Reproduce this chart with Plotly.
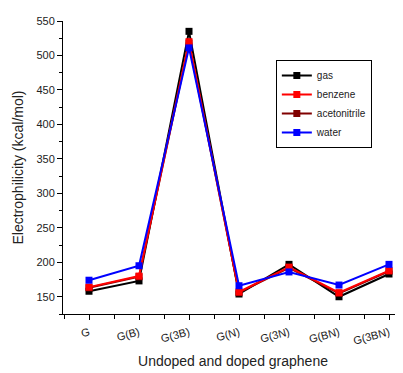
import plotly.graph_objects as go

categories = ["G", "G(B)", "G(3B)", "G(N)", "G(3N)", "G(BN)", "G(3BN)"]
gas = [158, 173, 535, 154, 197, 150, 183]
benzene = [164, 180, 520, 157, 193, 156, 188]
acetonitrile = [163, 179, 518, 156, 192, 155, 187]
water = [174, 195, 511, 166, 186, 167, 197]

series = [
    ("gas", gas, "#000000", 1),
    ("acetonitrile", acetonitrile, "#800000", 3),
    ("benzene", benzene, "#ff0000", 2),
    ("water", water, "#0000ff", 4),
]

x_idx = list(range(len(categories)))

fig = go.Figure()
for name, vals, color, rank in series:
    fig.add_trace(go.Scatter(
        x=x_idx, y=vals, name=name, mode="lines+markers",
        line=dict(color=color, width=2),
        marker=dict(symbol="square", size=7, color=color),
        legendrank=rank,
    ))

# page body has an 8px margin, so the figure is shifted by 8px
fig.update_layout(
    width=395, height=365,
    margin=dict(l=55, r=0, t=13, b=59, autoexpand=False),
    plot_bgcolor="white", paper_bgcolor="white",
    font=dict(family="Liberation Sans, Arial, sans-serif", size=11, color="#222222"),
    showlegend=True,
    legend=dict(
        x=0.626, y=0.867, xanchor="left", yanchor="top",
        bordercolor="#000000", borderwidth=1, bgcolor="white",
        font=dict(size=10, color="#222222"),
        itemwidth=30, tracegroupgap=0,
    ),
    xaxis=dict(
        range=[-0.52, 6.28], automargin=False,
        tickvals=x_idx, ticktext=categories, tickangle=-15,
        showline=True, linecolor="#000000", linewidth=1,
        ticks="outside", ticklen=5, tickcolor="#000000", ticklabelstandoff=2,
        minor=dict(dtick=0.5, tick0=0, ticks="outside", ticklen=4, tickcolor="#000000"),
        showgrid=False, zeroline=False,
        title=dict(text="Undoped and doped graphene", font=dict(size=14), standoff=10),
    ),
    yaxis=dict(
        range=[125, 550], automargin=False,
        tickvals=[150, 200, 250, 300, 350, 400, 450, 500, 550],
        showline=True, linecolor="#000000", linewidth=1,
        ticks="outside", ticklen=5, tickcolor="#000000", ticklabelstandoff=0,
        minor=dict(dtick=25, tick0=0, ticks="outside", ticklen=3, tickcolor="#000000"),
        showgrid=False, zeroline=False,
        title=dict(text="Electrophilicity (kcal/mol)", font=dict(size=14), standoff=9),
    ),
)

fig.write_html("out.html")
